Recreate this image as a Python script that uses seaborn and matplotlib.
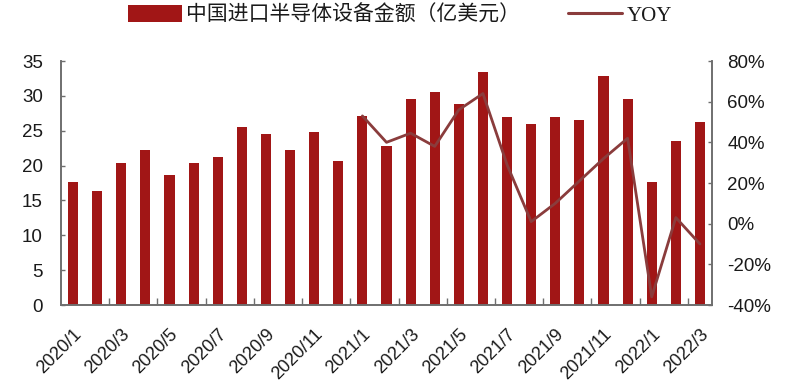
import numpy as np
import pandas as pd
import matplotlib
matplotlib.use("Agg")
import matplotlib.pyplot as plt
import seaborn as sns
from matplotlib.lines import Line2D
from matplotlib.patches import Patch

months = ["2020/1", "2020/2", "2020/3", "2020/4", "2020/5", "2020/6", "2020/7", "2020/8",
          "2020/9", "2020/10", "2020/11", "2020/12", "2021/1", "2021/2", "2021/3", "2021/4",
          "2021/5", "2021/6", "2021/7", "2021/8", "2021/9", "2021/10", "2021/11", "2021/12",
          "2022/1", "2022/2", "2022/3"]
import_value = [17.7, 16.3, 20.4, 22.2, 18.6, 20.4, 21.2, 25.6, 24.5, 22.2, 24.8, 20.7,
                27.1, 22.8, 29.6, 30.5, 28.8, 33.4, 27.0, 25.9, 26.9, 26.5, 32.8, 29.5,
                17.7, 23.5, 26.3]
yoy_months = months[12:]
yoy_pct = [53, 40, 44.5, 38, 56, 64, 29, 1, 10, 21, 32, 42, -36, 3, -10]

bar_label = "中国进口半导体设备金额（亿美元）"
line_label = "YOY"
left_ticks = [0, 5, 10, 15, 20, 25, 30, 35]
right_ticks = [-40, -20, 0, 20, 40, 60, 80]

sns.set_theme(style="white")
plt.rcParams['font.family'] = ['Liberation Sans', 'Noto Sans CJK SC', 'DejaVu Sans']

BAR_C = "#A11616"
LINE_C = "#8A3C3C"
TXT_C = "#1a1a1a"
SPINE_C = "#6e6e6e"

fig = plt.figure(figsize=(8.0, 3.86), dpi=100)
ax = fig.add_axes([61/800, 1-305/386, (712-61)/800, (305-61)/386])

df = pd.DataFrame({"month": months, "value": import_value})
sns.barplot(data=df, x="month", y="value", order=months, color=BAR_C, saturation=1,
            width=0.42, ax=ax, edgecolor="none")
ax.set_xlim(-0.5, len(months) - 0.5)
ax.set_ylim(0, 35)
ax.set_yticks(left_ticks)
ax.set_yticklabels([str(t) for t in left_ticks])
ax.set_xlabel("")
ax.set_ylabel("")

ax2 = ax.twinx()
pos = {m: i for i, m in enumerate(months)}
ldf = pd.DataFrame({"x": [pos[m] for m in yoy_months], "yoy": yoy_pct})
sns.lineplot(data=ldf, x="x", y="yoy", color=LINE_C, linewidth=2.0, ax=ax2)
ax2.set_ylim(-40, 80)
ax2.set_yticks(right_ticks)
ax2.set_yticklabels([f"{t}%" for t in right_ticks])
ax2.set_xlabel("")
ax2.set_ylabel("")
ax2.set_xlim(-0.5, len(months) - 0.5)

# x ticks: labels every other month, tick marks between pairs
label_idx = list(range(0, len(months), 2))
ax.set_xticks(label_idx)
ax.set_xticklabels([months[i] for i in label_idx], rotation=45, ha="right", va="top",
                   rotation_mode="anchor", fontsize=13, color=TXT_C)
ax.set_xticks([i + 1.5 for i in range(0, len(months) - 2, 2)], minor=True)
ax.tick_params(axis="x", which="major", length=0, pad=15)
ax.tick_params(axis="x", which="minor", length=5, width=1, direction="in", color=SPINE_C, bottom=True)
ax.tick_params(axis="y", which="major", length=3, width=1, direction="in", color=SPINE_C,
               labelsize=13.5, labelcolor=TXT_C, pad=13, left=True)
ax2.tick_params(axis="y", which="major", length=3, width=1, direction="in", color=SPINE_C,
                labelsize=13.5, labelcolor=TXT_C, pad=11, right=True)

for a in (ax, ax2):
    a.grid(False)
    a.spines["top"].set_visible(False)
    for s in ("left", "right", "bottom"):
        a.spines[s].set_color(SPINE_C)
        a.spines[s].set_linewidth(1.2)
    if a.get_legend():
        a.get_legend().remove()

handles = [Patch(facecolor=BAR_C, edgecolor="none"),
           Line2D([0], [0], color=LINE_C, linewidth=2.2)]
leg = fig.legend(handles, [bar_label, line_label], loc="center", bbox_to_anchor=(0.5, 1-15/386),
                 ncol=2, frameon=False, handlelength=2.6, handleheight=0.9, handletextpad=0.2,
                 columnspacing=2.3, fontsize=15)
texts = leg.get_texts()
texts[0].set_family(['Noto Sans CJK SC', 'DejaVu Sans'])
texts[1].set_family(['Liberation Serif', 'DejaVu Serif'])
for t in texts:
    t.set_color(TXT_C)

fig.savefig("out.png", dpi=100)
